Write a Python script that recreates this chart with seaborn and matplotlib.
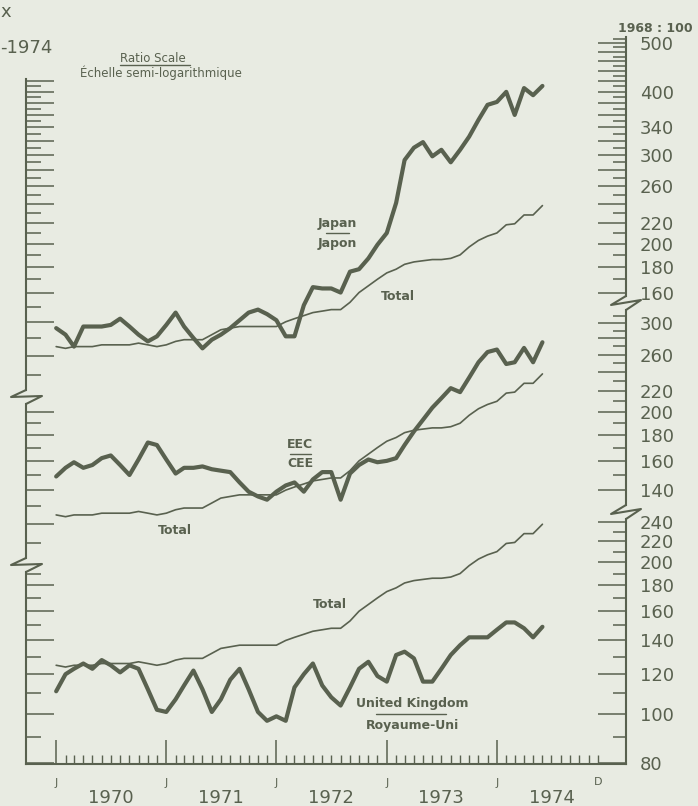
import matplotlib
matplotlib.use("Agg")
import matplotlib.pyplot as plt
import matplotlib.transforms as mtransforms
from matplotlib.lines import Line2D
from matplotlib.ticker import FixedLocator, NullFormatter, FuncFormatter
import matplotlib.dates as mdates
import numpy as np
import pandas as pd
import seaborn as sns

# monthly indices, 1968 = 100, Jan 1970 - Jun 1974
months = pd.date_range("1970-01-01", periods=54, freq="MS")

total = [125, 124, 125, 125, 125, 126, 126, 126, 126, 127, 126, 125,
         126, 128, 129, 129, 129, 132, 135, 136, 137, 137, 137, 137,
         137, 140, 142, 144, 146, 147, 148, 148, 153, 160, 165, 170,
         175, 178, 182, 184, 185, 186, 186, 187, 190, 197, 203, 207,
         210, 218, 219, 228, 228, 238]
japan = [136, 132, 125, 137, 137, 137, 138, 142, 137, 132, 128, 131,
         138, 146, 137, 130, 124, 129, 132, 136, 141, 146, 148, 145,
         141, 131, 131, 151, 164, 163, 163, 160, 176, 178, 187, 199,
         210, 241, 293, 310, 318, 298, 307, 290, 307, 326, 352, 377,
         382, 400, 360, 407, 394, 411]
eec = [149, 155, 159, 155, 157, 162, 164, 157, 150, 161, 174, 172,
       161, 151, 155, 155, 156, 154, 153, 152, 145, 139, 136, 134,
       139, 143, 145, 139, 147, 152, 152, 134, 151, 157, 161, 159,
       160, 162, 172, 183, 193, 204, 213, 223, 219, 234, 251, 263,
       266, 249, 251, 268, 251, 275]
uk = [111, 120, 123, 126, 123, 128, 125, 121, 125, 123, 112, 102,
      101, 107, 114, 122, 112, 101, 107, 117, 123, 112, 101, 97,
      99, 97, 113, 120, 126, 114, 108, 104, 113, 123, 127, 119,
      116, 131, 133, 129, 116, 116, 123, 131, 137, 142, 142, 142,
      147, 152, 152, 148, 142, 149]

top_labels = [500, 400, 340, 300, 260, 220, 200, 180, 160]
mid_labels = [300, 260, 220, 200, 180, 160, 140]
bot_labels = [240, 220, 200, 180, 160, 140, 120, 100, 80]
years = [1970, 1971, 1972, 1973, 1974]

INK = "#59614f"
PAPER = "#e8ebe2"
W, H = 698, 806
PX_PER_LN = 219
FL, FR, FT, FB = 26, 626, 37, 764

sns.set_theme(style="white")
plt.rcParams["font.family"] = ["DejaVu Sans"]

fig = plt.figure(figsize=(W / 100, H / 100), dpi=100, facecolor=PAPER)


def fx(x):
    return x / W


def fy(y):
    return 1 - y / H


def val_at(anchor, y):
    return anchor[0] * np.exp((anchor[1] - y) / PX_PER_LN)


def tick_sets(v_lo, v_hi):
    tens = [v for v in range(10, 1000, 10) if v_lo - 0.5 <= v <= v_hi]
    long_ = [v for v in tens if v % 20 == 0]
    short = [v for v in tens if v % 20 != 0]
    return long_, short


panels = [
    dict(name="top", anchor=(500, 43), series=japan, left=(79, 390), right=(37, 296), labels=top_labels),
    dict(name="mid", anchor=(200, 412), series=eec, left=(404, 558), right=(310, 505), labels=mid_labels),
    dict(name="bot", anchor=(80, 763), series=uk, left=(572, 764), right=(519, 764), labels=bot_labels),
]

rect = [fx(FL), fy(FB), fx(FR) - fx(FL), fy(FT) - fy(FB)]
xlim = (pd.Timestamp("1969-09-23"), pd.Timestamp("1975-03-05"))
tick_pt = 0.72

for p in panels:
    ax = fig.add_axes(rect, label=p["name"])
    axr = ax.twinx()
    for a in (ax, axr):
        a.set_facecolor("none")
        a.set_yscale("log")
        a.set_ylim(val_at(p["anchor"], FB), val_at(p["anchor"], FT))
        a.set_xlim(xlim)
        for s in a.spines.values():
            s.set_visible(False)

    sns.lineplot(x=months, y=total, ax=ax, color=INK, lw=1.2)
    sns.lineplot(x=months, y=p["series"], ax=ax, color=INK, lw=3.0)
    ax.set_xlabel("")
    ax.set_ylabel("")

    # left scale (unlabelled)
    lo, hi = val_at(p["anchor"], p["left"][1]), val_at(p["anchor"], p["left"][0])
    ax.spines["left"].set_visible(True)
    ax.spines["left"].set_bounds(lo, hi)
    ax.spines["left"].set_color(INK)
    ax.spines["left"].set_linewidth(1.5)
    lmaj, lmin = tick_sets(lo, hi)
    ax.yaxis.set_major_locator(FixedLocator(lmaj))
    ax.yaxis.set_minor_locator(FixedLocator(lmin))
    ax.yaxis.set_major_formatter(NullFormatter())
    ax.yaxis.set_minor_formatter(NullFormatter())
    ax.tick_params(axis="y", which="major", direction="in", length=28 * tick_pt, width=1.1, color=INK)
    ax.tick_params(axis="y", which="minor", direction="in", length=15 * tick_pt, width=1.1, color=INK)

    # right scale (labelled)
    lo, hi = val_at(p["anchor"], p["right"][1]), val_at(p["anchor"], p["right"][0])
    axr.spines["right"].set_visible(True)
    axr.spines["right"].set_bounds(lo, hi)
    axr.spines["right"].set_color(INK)
    axr.spines["right"].set_linewidth(1.5)
    rmaj, rmin = tick_sets(lo, hi)
    labels = p["labels"]
    axr.yaxis.set_major_locator(FixedLocator(sorted(set(rmaj) | set(labels))))
    axr.yaxis.set_minor_locator(FixedLocator([v for v in rmin if v not in labels]))
    axr.yaxis.set_major_formatter(FuncFormatter(lambda v, pos, lab=labels: str(int(round(v))) if int(round(v)) in lab else ""))
    axr.yaxis.set_minor_formatter(NullFormatter())
    axr.tick_params(axis="y", which="major", direction="in", length=28 * tick_pt, width=1.1, color=INK,
                    labelsize=13, labelcolor=INK, pad=10)
    axr.tick_params(axis="y", which="minor", direction="in", length=13 * tick_pt, width=1.1, color=INK)

    ax.tick_params(axis="x", which="both", bottom=False, labelbottom=False)
    axr.tick_params(axis="x", which="both", bottom=False, labelbottom=False)

    if p["name"] == "bot":
        ax.spines["bottom"].set_visible(True)
        ax.spines["bottom"].set_color(INK)
        ax.spines["bottom"].set_linewidth(1.5)
        ax.xaxis.set_major_locator(FixedLocator(mdates.date2num(
            [pd.Timestamp(f"{yr}-01-01") for yr in years])))
        ax.xaxis.set_minor_locator(FixedLocator(mdates.date2num(
            pd.date_range("1970-01-01", "1974-12-01", freq="MS"))))
        ax.xaxis.set_major_formatter(FuncFormatter(lambda v, pos: "J"))
        ax.tick_params(axis="x", which="major", bottom=True, labelbottom=True, direction="in",
                       length=24 * tick_pt, width=1.1, color=INK, labelsize=8, labelcolor=INK, pad=10)
        ax.tick_params(axis="x", which="minor", bottom=True, direction="in",
                       length=9 * tick_pt, width=1.0, color=INK)
        bt = mtransforms.blended_transform_factory(ax.transData, fig.transFigure)
        ax.text(pd.Timestamp("1974-12-01"), fy(782), "D", transform=bt, ha="center", va="center",
                fontsize=8, color=INK)
        for yr in years:
            ax.text(pd.Timestamp(f"{yr}-07-01"), fy(798), str(yr), transform=bt, ha="center",
                    va="center", fontsize=13, color=INK)


def fig_line(points, lw=1.5):
    xs = [fx(x) for x, _ in points]
    ys = [fy(y) for _, y in points]
    fig.add_artist(Line2D(xs, ys, transform=fig.transFigure, color=INK, lw=lw))


# scale breaks
fig_line([(FL, 390), (11, 397), (42, 396), (FL, 404)])
fig_line([(FL, 558), (11, 565), (42, 564), (FL, 572)])
fig_line([(FR, 296), (611, 305), (641, 300), (FR, 310)])
fig_line([(FR, 505), (611, 514), (641, 509), (FR, 519)])

# header fragments
fig.text(fx(0), fy(12), "x", ha="left", va="center", fontsize=13, color=INK)
fig.text(fx(0), fy(48), "-1974", ha="left", va="center", fontsize=13, color=INK)
fig.text(fx(655), fy(28), "1968 : 100", ha="center", va="center", fontsize=9,
         fontweight="bold", color=INK)

fig.text(fx(153), fy(58), "Ratio Scale", ha="center", va="center", fontsize=8.5, color=INK)
fig_line([(120, 65), (190, 65)], lw=1.0)
fig.text(fx(161), fy(73), "Échelle semi-logarithmique", ha="center", va="center",
         fontsize=8.5, color=INK)

label_kw = dict(ha="center", va="center", fontsize=9, fontweight="bold", color=INK)
fig.text(fx(337), fy(223), "Japan", **label_kw)
fig_line([(326, 233), (349, 233)], lw=1.0)
fig.text(fx(337), fy(243), "Japon", **label_kw)
fig.text(fx(398), fy(296), "Total", **label_kw)

fig.text(fx(300), fy(444), "EEC", **label_kw)
fig_line([(290, 454), (311, 454)], lw=1.0)
fig.text(fx(300), fy(463), "CEE", **label_kw)
fig.text(fx(175), fy(530), "Total", **label_kw)

fig.text(fx(330), fy(604), "Total", **label_kw)
fig.text(fx(412), fy(703), "United Kingdom", **label_kw)
fig_line([(376, 714), (446, 714)], lw=1.0)
fig.text(fx(412), fy(725), "Royaume-Uni", **label_kw)

fig.savefig("out.png", dpi=100, facecolor=PAPER)
